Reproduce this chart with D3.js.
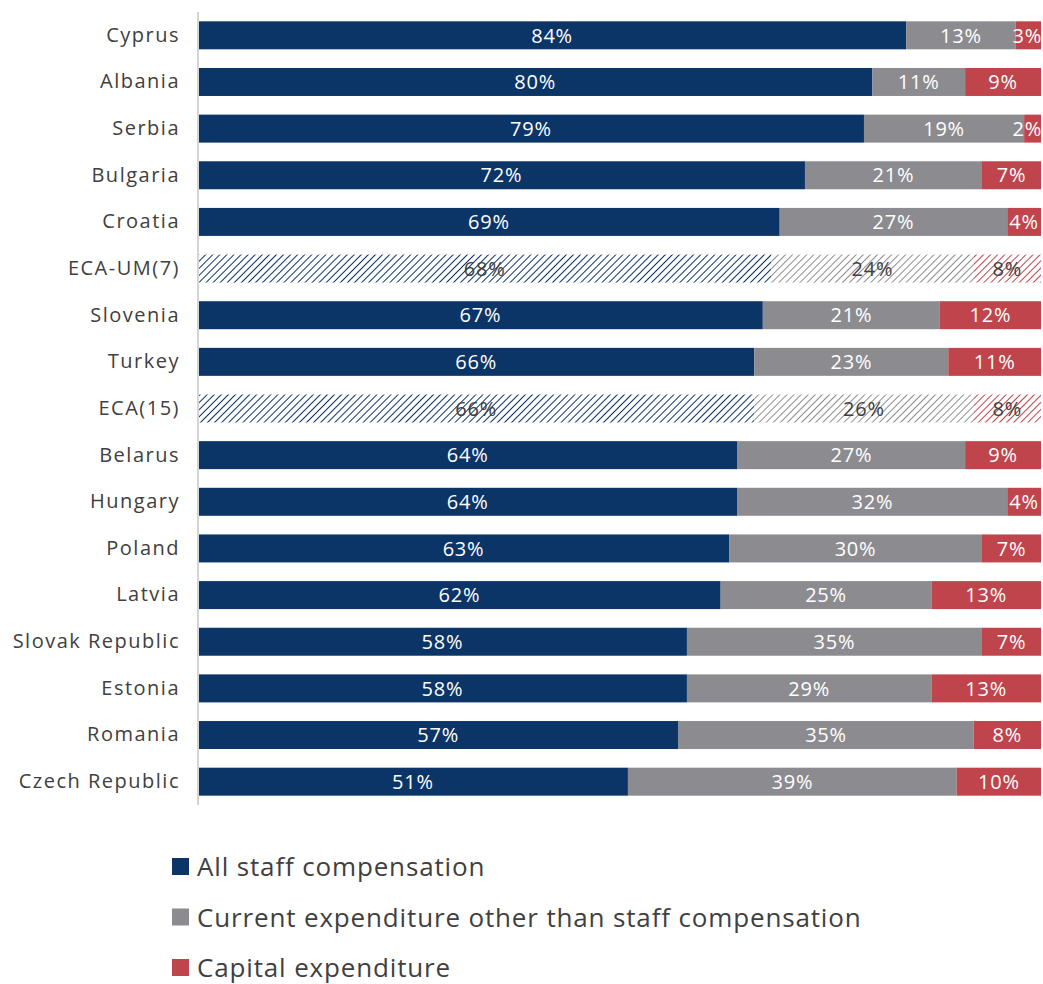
<!DOCTYPE html>
<html>
<head>
<meta charset="utf-8">
<script src="https://cdn.jsdelivr.net/npm/d3@7"></script>
<style>
  html, body { margin: 0; padding: 0; background: #fff; }
  svg { display: block; }
  text { font-family: "Open Sans", "Noto Sans", sans-serif; }
</style>
</head>
<body>
<svg id="chart" width="1043" height="984"></svg>
<script>
// Share of education expenditure by type, per country (percent)
const categories = [
  "Cyprus", "Albania", "Serbia", "Bulgaria", "Croatia", "ECA-UM(7)", "Slovenia",
  "Turkey", "ECA(15)", "Belarus", "Hungary", "Poland", "Latvia", "Slovak Republic",
  "Estonia", "Romania", "Czech Republic"
];
const staffCompensation = [84, 80, 79, 72, 69, 68, 67, 66, 66, 64, 64, 63, 62, 58, 58, 57, 51];
const otherCurrent      = [13, 11, 19, 21, 27, 24, 21, 23, 26, 27, 32, 30, 25, 35, 29, 35, 39];
const capital           = [ 3,  9,  2,  7,  4,  8, 12, 11,  8,  9,  4,  7, 13,  7, 13,  8, 10];
// Regional averages are drawn with a hatched fill
const aggregates = ["ECA-UM(7)", "ECA(15)"];

const seriesNames = [
  "All staff compensation",
  "Current expenditure other than staff compensation",
  "Capital expenditure"
];
const seriesColors = ["#0b3467", "#8c8c90", "#c0444b"];
const seriesValues = [staffCompensation, otherCurrent, capital];

const svg = d3.select("#chart");
const margin = { left: 198, right: 2, top: 12, bottom: 179 };
const W = 1043, H = 984;

const x = d3.scaleLinear().domain([0, 100]).range([margin.left, W - margin.right]);
const y = d3.scaleBand().domain(categories)
  .range([margin.top, H - margin.bottom]).paddingInner(0.4).paddingOuter(0.2);

// Hatch patterns for aggregates
const defs = svg.append("defs");
seriesColors.forEach((c, i) => {
  const p = defs.append("pattern")
    .attr("id", "hatch" + i)
    .attr("patternUnits", "userSpaceOnUse")
    .attr("width", 5).attr("height", 5)
    .attr("patternTransform", "rotate(45)");
  p.append("rect").attr("width", 5).attr("height", 5).attr("fill", "#fff");
  p.append("line").attr("x1", 0).attr("y1", 0).attr("x2", 0).attr("y2", 5)
    .attr("stroke", c).attr("stroke-width", 2);
});

// Stacked data
const rows = categories.map((cat, i) => {
  let acc = 0;
  return seriesValues.map((vals, s) => {
    const seg = { cat, s, v: vals[i], x0: acc, x1: acc + vals[i] };
    acc += vals[i];
    return seg;
  });
}).flat();

const bars = svg.append("g");
bars.selectAll("rect").data(rows).join("rect")
  .attr("x", d => x(d.x0))
  .attr("y", d => y(d.cat))
  .attr("width", d => x(d.x1) - x(d.x0))
  .attr("height", y.bandwidth())
  .attr("fill", d => aggregates.includes(d.cat) ? `url(#hatch${d.s})` : seriesColors[d.s]);

bars.selectAll("text").data(rows).join("text")
  .attr("x", d => (x(d.x0) + x(d.x1)) / 2)
  .attr("y", d => y(d.cat) + y.bandwidth() / 2)
  .attr("dy", "0.36em")
  .attr("text-anchor", "middle")
  .attr("font-size", 20)
  .attr("letter-spacing", 0.8)
  .attr("fill", d => aggregates.includes(d.cat) ? "#404040" : "#fff")
  .text(d => d.v + "%")
  .each(function () {
    // keep labels of narrow end segments inside the drawing area
    const w = this.getComputedTextLength();
    const cx = +this.getAttribute("x");
    if (cx + w / 2 > W - 1) {
      this.setAttribute("text-anchor", "end");
      this.setAttribute("x", W - 1);
    }
  });

// Category axis
const yAxis = svg.append("g")
  .attr("transform", `translate(${margin.left},0)`)
  .call(d3.axisLeft(y).tickSize(0).tickPadding(18));
yAxis.select(".domain").attr("stroke", "#d4d4d4").attr("stroke-width", 2)
  .attr("d", `M0,${margin.top}V${H - margin.bottom}`);
yAxis.selectAll("text")
  .attr("font-size", 20)
  .attr("letter-spacing", 1.5)
  .attr("fill", "#404040")
  .style("font-family", "'Open Sans', 'Noto Sans', sans-serif");

// Legend
const legend = svg.append("g").attr("transform", "translate(172,867)");
seriesNames.forEach((name, i) => {
  const g = legend.append("g").attr("transform", `translate(0,${i * 50.5})`);
  g.append("rect").attr("x", 0).attr("y", -9).attr("width", 17).attr("height", 17)
    .attr("fill", seriesColors[i]);
  g.append("text").attr("x", 25).attr("y", 0).attr("dy", "0.36em")
    .attr("font-size", 26).attr("letter-spacing", 0.85)
    .attr("fill", "#404040").text(name);
});
</script>
</body>
</html>
